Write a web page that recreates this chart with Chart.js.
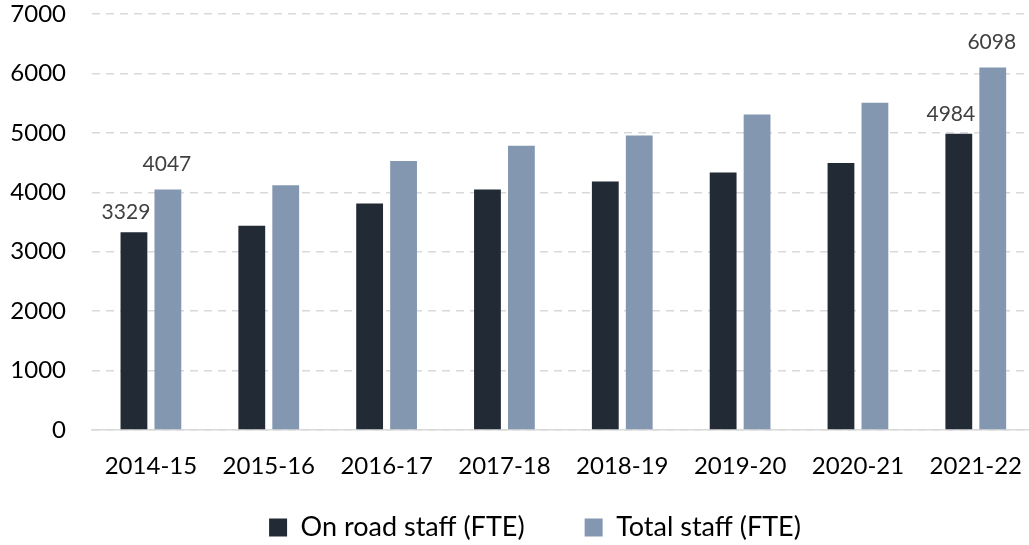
<!DOCTYPE html>
<html>
<head>
<meta charset="utf-8">
<script src="https://cdn.jsdelivr.net/npm/chart.js@4"></script>
<style>
    html, body { margin: 0; padding: 0; background: #fff; overflow: hidden; }
    #wrap { position: absolute; left: 0; top: 0; width: 1036px; height: 545px; }
</style>
</head>
<body>
<div id="wrap"><canvas id="staffChart"></canvas></div>
<script>
// Chart data
const years = ['2014-15', '2015-16', '2016-17', '2017-18', '2018-19', '2019-20', '2020-21', '2021-22'];
const onRoadStaff = [3329, 3437, 3810, 4046, 4182, 4334, 4493, 4984];
const totalStaff = [4047, 4120, 4527, 4785, 4954, 5310, 5507, 6098];
const yTicks = [0, 1000, 2000, 3000, 4000, 5000, 6000, 7000];
// only first and last bars carry a value label
const labelledIndexes = [0, 7];

const FONT = 'Lato, "Open Sans", sans-serif';

// Small plugin to write the values above the labelled bars
const valueLabels = {
    id: 'valueLabels',
    afterDatasetsDraw(chart) {
        const ctx = chart.ctx;
        ctx.save();
        ctx.font = '21px ' + FONT;
        ctx.fillStyle = '#404040';
        ctx.textAlign = 'center';
        ctx.textBaseline = 'middle';
        chart.data.datasets.forEach((ds, di) => {
            const meta = chart.getDatasetMeta(di);
            // on-road labels sit a bit lower and to the left
            const dx = di === 0 ? -8 : -1;
            const dy = di === 0 ? 20 : 25;
            labelledIndexes.forEach(i => {
                const bar = meta.data[i];
                ctx.fillText(String(ds.data[i]), bar.x + dx, bar.y - dy);
            });
        });
        ctx.restore();
    }
};

// Fix the legend block height and nudge it so it sits where the original one is
const legendPlacement = {
    id: 'legendPlacement',
    beforeInit(chart) {
        const legend = chart.legend;
        const origFit = legend.fit;
        legend.fit = function () {
            origFit.call(this);
            this.height = 67;
        };
        // draw without the legend's own clip box, shifted into place
        legend.draw = function () {
            const ctx = this.ctx;
            ctx.save();
            ctx.translate(13, -24);
            this._draw();
            ctx.restore();
        };
    }
};

new Chart(document.getElementById('staffChart').getContext('2d'), {
    type: 'bar',
    data: {
        labels: years,
        datasets: [
            {
                label: 'On road staff (FTE)',
                data: onRoadStaff,
                backgroundColor: '#222a35',
                categoryPercentage: 0.576,
                barPercentage: 0.79,
            },
            {
                label: 'Total staff (FTE)',
                data: totalStaff,
                backgroundColor: '#8497b0',
                categoryPercentage: 0.576,
                barPercentage: 0.79,
            }
        ]
    },
    options: {
        responsive: true,
        maintainAspectRatio: false,
        animation: false,
        layout: {
            padding: { top: 4, left: 8, right: 0, bottom: 0 }
        },
        plugins: {
            legend: {
                position: 'bottom',
                labels: {
                    color: '#000',
                    font: { family: FONT, size: 27 },
                    boxWidth: 18,
                    boxHeight: 18,
                    padding: 60,
                }
            },
            tooltip: { enabled: false }
        },
        scales: {
            y: {
                min: 0,
                max: 7000,
                afterBuildTicks: axis => {
                    axis.ticks = yTicks.map(v => ({ value: v }));
                },
                afterFit: s => {
                    s.width = 84;
                    s.paddingTop = 14;
                    s.paddingBottom = 14;
                },
                border: { display: false, dash: [8, 6] },
                grid: {
                    color: '#d9d9d9',
                    lineWidth: 1.5,
                    drawTicks: false,
                },
                ticks: {
                    color: '#000',
                    padding: 26,
                    font: { family: FONT, size: 24 },
                    callback: v => String(v)
                }
            },
            x: {
                afterFit: s => {
                    s.height = 48;
                },
                border: { color: '#d9d9d9', width: 1.5 },
                grid: { display: false },
                ticks: {
                    color: '#000',
                    padding: 14,
                    font: { family: FONT, size: 24 }
                }
            }
        }
    },
    plugins: [valueLabels, legendPlacement]
});
</script>
</body>
</html>
